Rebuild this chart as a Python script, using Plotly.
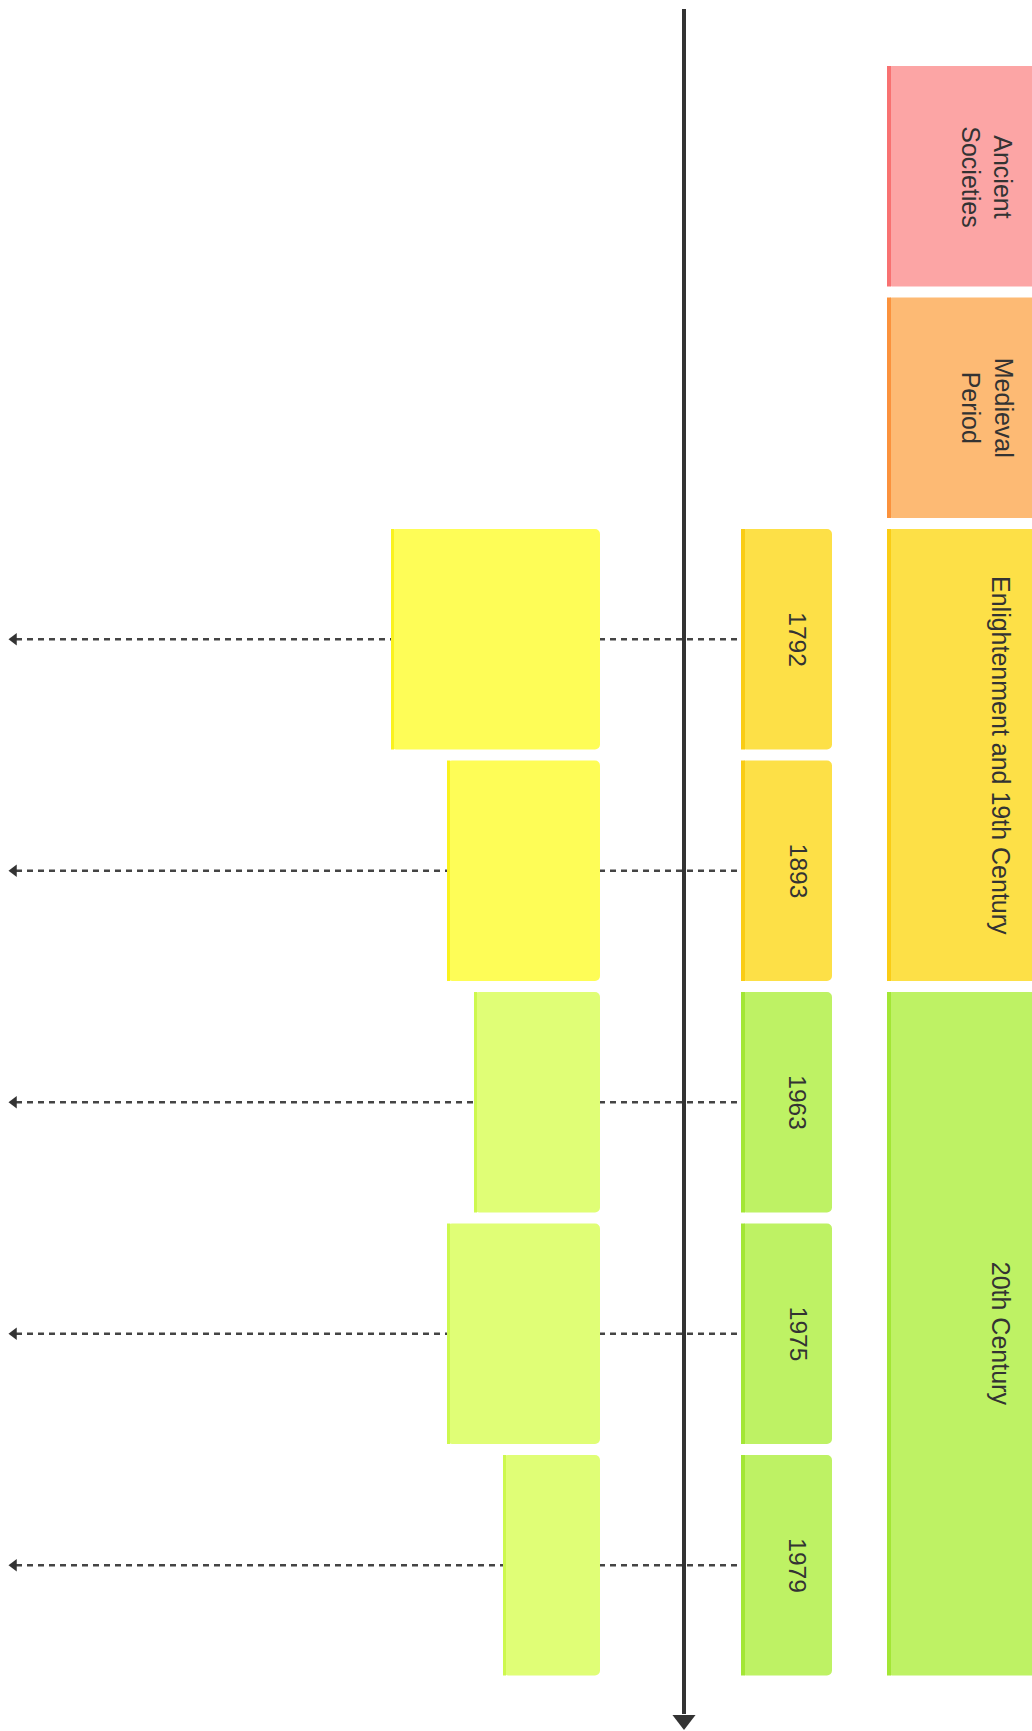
import plotly.graph_objects as go

# ---------------- data ----------------
sections = ["Ancient Societies", "Medieval Period", "Enlightenment and 19th Century", "20th Century"]
section_labels = ["Ancient<br>Societies", "Medieval<br>Period", "Enlightenment and 19th Century", "20th Century"]
section_periods = [[], [], ["1792", "1893"], ["1963", "1975", "1979"]]
# relative length of each period's event box (one per period, in order)
event_lengths = [209, 153, 126, 153, 97]

section_fill = ["#FCA5A5", "#FDBA74", "#FDE047", "#BEF264"]
section_edge = ["#F87171", "#FB923C", "#FACC15", "#A3E635"]
event_fill = ["#FEFD57", "#FEBB74", "#FEFD57", "#E0FE76"]
event_edge = ["#FAF21E", "#FB923C", "#FAF21E", "#CDF84E"]

# ---------------- layout constants ----------------
W, H = 1032, 1731
TOP = 66          # top of first row
PITCH = 231.5     # row pitch
BOX = 220.5       # box thickness
SEC_LEFT, SEC_LEN = 887, 216
YEAR_LEFT, YEAR_LEN = 741, 91
EVT_RIGHT = 600
AXIS_X = 684
STRIPE = 4
FONT = "Liberation Sans, Arial, sans-serif"
TXT = "#333333"


def row_center(i):
    return TOP + BOX / 2 + PITCH * i


# build row assignments
sec_y, sec_w = [], []
per_y, per_lab, per_sec = [], [], []
row = 0
for s, periods in enumerate(section_periods):
    n = max(1, len(periods))
    first, last = row, row + n - 1
    sec_y.append((row_center(first) + row_center(last)) / 2)
    sec_w.append((last - first) * PITCH + BOX)
    for k, p in enumerate(periods):
        per_y.append(row_center(row + k))
        per_lab.append(p)
        per_sec.append(s)
    row += n

fig = go.Figure()

# dashed connector lines (below bars)
shapes = []
for y in per_y:
    shapes.append(dict(type="line", xref="x", yref="y", x0=16, x1=YEAR_LEFT, y0=y, y1=y,
                       line=dict(color="#444444", width=2.5, dash="6px,5px"), layer="below"))

# section boxes
fig.add_trace(go.Bar(orientation="h", y=sec_y, x=[SEC_LEN] * len(sec_y), base=[SEC_LEFT] * len(sec_y),
                     width=sec_w, marker=dict(color=section_fill, cornerradius=5, line=dict(width=0)),
                     hoverinfo="text", hovertext=sections, showlegend=False))
fig.add_trace(go.Bar(orientation="h", y=sec_y, x=[STRIPE] * len(sec_y), base=[SEC_LEFT] * len(sec_y),
                     width=sec_w, marker=dict(color=section_edge, line=dict(width=0)),
                     hoverinfo="skip", showlegend=False))

# period (year) boxes
fig.add_trace(go.Bar(orientation="h", y=per_y, x=[YEAR_LEN] * len(per_y), base=[YEAR_LEFT] * len(per_y),
                     width=[BOX] * len(per_y),
                     marker=dict(color=[section_fill[s] for s in per_sec], cornerradius=5, line=dict(width=0)),
                     hoverinfo="text", hovertext=per_lab, showlegend=False))
fig.add_trace(go.Bar(orientation="h", y=per_y, x=[STRIPE] * len(per_y), base=[YEAR_LEFT] * len(per_y),
                     width=[BOX] * len(per_y),
                     marker=dict(color=[section_edge[s] for s in per_sec], line=dict(width=0)),
                     hoverinfo="skip", showlegend=False))

# event boxes
evt_base = [EVT_RIGHT - L for L in event_lengths]
fig.add_trace(go.Bar(orientation="h", y=per_y, x=event_lengths, base=evt_base,
                     width=[BOX] * len(per_y),
                     marker=dict(color=[event_fill[s] for s in per_sec], cornerradius=5, line=dict(width=0)),
                     hoverinfo="skip", showlegend=False))
fig.add_trace(go.Bar(orientation="h", y=per_y, x=[3] * len(per_y), base=evt_base,
                     width=[BOX] * len(per_y),
                     marker=dict(color=[event_edge[s] for s in per_sec], line=dict(width=0)),
                     hoverinfo="skip", showlegend=False))

# arrowheads on dashed lines
fig.add_trace(go.Scatter(x=[14] * len(per_y), y=per_y, mode="markers",
                         marker=dict(symbol="triangle-left", size=11, color="#333333"),
                         hoverinfo="skip", showlegend=False))

# main time axis
fig.add_trace(go.Scatter(x=[AXIS_X, AXIS_X], y=[9, 1714], mode="lines",
                         line=dict(color="#333333", width=4), hoverinfo="skip", showlegend=False))
fig.add_trace(go.Scatter(x=[AXIS_X], y=[1720], mode="markers",
                         marker=dict(symbol="triangle-down", size=20, color="#333333"),
                         hoverinfo="skip", showlegend=False))

# text labels
annotations = []
for s, lab in enumerate(section_labels):
    cx = SEC_LEFT + 100 if "<br>" in lab else SEC_LEFT + 114
    annotations.append(dict(x=cx, y=sec_y[s], xref="x", yref="y", text=lab, showarrow=False,
                            textangle=90, font=dict(family=FONT, size=25, color=TXT),
                            xanchor="center", yanchor="middle"))
for y, lab in zip(per_y, per_lab):
    annotations.append(dict(x=YEAR_LEFT + 57, y=y, xref="x", yref="y", text=lab, showarrow=False,
                            textangle=90, font=dict(family=FONT, size=24.5, color=TXT),
                            xanchor="center", yanchor="middle"))

fig.update_layout(
    width=W, height=H, margin=dict(l=0, r=0, t=0, b=0),
    paper_bgcolor="white", plot_bgcolor="white",
    barmode="overlay", shapes=shapes, annotations=annotations,
    xaxis=dict(range=[0, W], visible=False, fixedrange=True),
    yaxis=dict(range=[H, 0], visible=False, fixedrange=True),
)

fig.write_html("out.html", config={"displayModeBar": False},
               post_script="document.body.style.margin='0';document.body.style.overflow='hidden';")
